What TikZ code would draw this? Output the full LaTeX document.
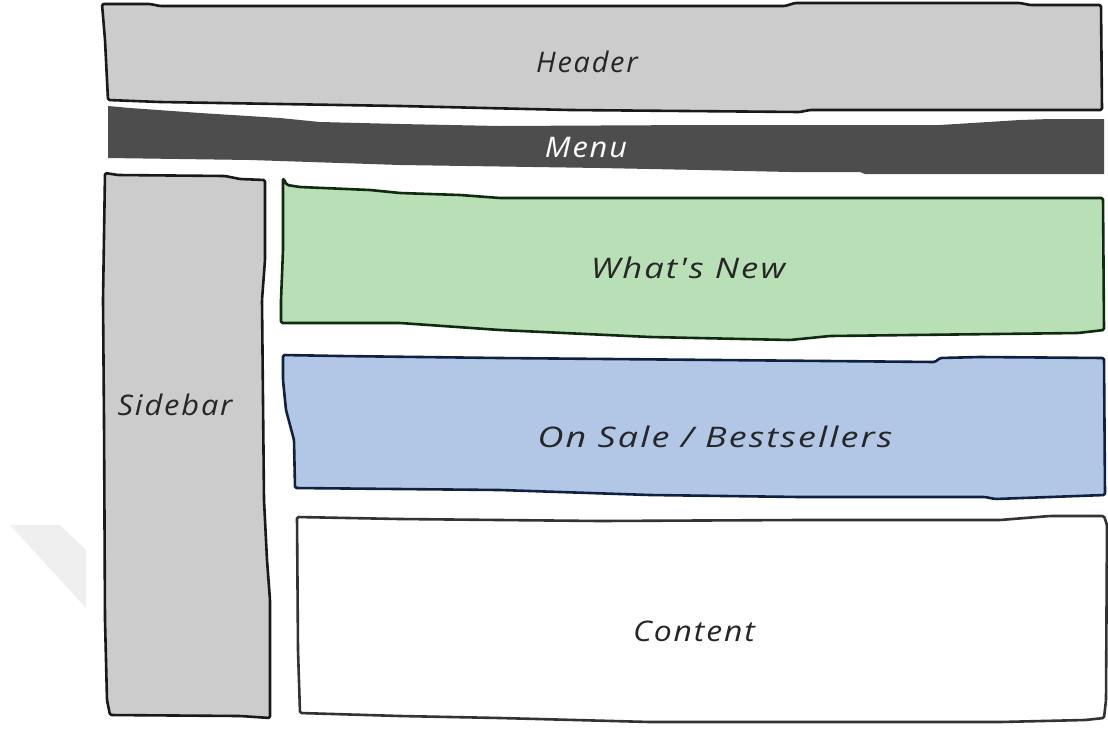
\documentclass[tikz,border=0pt]{standalone}
\usepackage{fontspec}
\setmainfont{Open Sans}
\newfontfamily\handfont[LetterSpace=6]{Open Sans}
\newcommand{\hw}[2]{\scalebox{#1}[1.05]{#2}}
\begin{document}
\begin{tikzpicture}[x=1pt,y=-1pt,
  sketch/.style={line width=2.6pt,line join=round,rounded corners=1.5pt},
  lbl/.style={font=\handfont\itshape\fontsize{27}{32}\selectfont,text=black!85,inner sep=0pt}]
\useasboundingbox (0,0) rectangle (1108,729);
\definecolor{hdrgray}{HTML}{CCCCCC}
\definecolor{menugray}{HTML}{4D4D4D}
\definecolor{newgreen}{HTML}{B9DFB7}
\definecolor{salefill}{HTML}{B2C7E6}
\definecolor{salenavy}{HTML}{102040}
\definecolor{newline}{HTML}{0F2A0F}
\definecolor{faint}{HTML}{EFEFEF}
% faint artifact
\fill[faint] (10,525) -- (60,525) -- (86,550) -- (86,608) -- cycle;
% Header
\draw[sketch,fill=hdrgray,draw=black!90] (102,4) -- (150,4) -- (160,6) -- (785,6) -- (795,3) -- (1020,3) -- (1030,5) -- (1101,5)
  -- (1102,110) -- (810,110) -- (800,112) -- (570,110) -- (400,106) -- (160,102) -- (108,100) -- (105,40) -- cycle;
% Menu
\fill[menugray] (108,106) -- (130,108) -- (200,113) -- (280,118) -- (320,122) -- (400,124) -- (500,126) -- (700,125)
  -- (940,125) -- (1020,120) -- (1050,119) -- (1104,119) -- (1104,174) -- (865,174) -- (860,172) -- (790,172)
  -- (700,170) -- (600,168) -- (400,165) -- (250,160) -- (108,158) -- cycle;
% Sidebar
\draw[sketch,fill=hdrgray,draw=black!90] (105,173) -- (118,175) -- (225,176) -- (240,179) -- (265,180) -- (265,260) -- (262,300)
  -- (264,500) -- (267,560) -- (270,600) -- (270,718) -- (240,716) -- (110,715) -- (107,700) -- (105,620) -- (104,420)
  -- (103,300) -- cycle;
% What's New
\draw[sketch,fill=newgreen,draw=newline] (283,178) -- (287,185) -- (300,187) -- (370,190) -- (400,193) -- (460,195) -- (500,198)
  -- (1103,198) -- (1104,330) -- (1078,333) -- (830,336) -- (790,340) -- (650,337) -- (500,330) -- (400,323) -- (281,323)
  -- (281,300) -- (283,250) -- cycle;
% On Sale
\draw[sketch,fill=salefill,draw=salenavy] (283,355) -- (340,356) -- (500,358) -- (935,362) -- (940,358) -- (980,357) -- (1104,358)
  -- (1105,495) -- (1050,497) -- (995,499) -- (985,497) -- (800,497) -- (650,495) -- (500,490) -- (295,488) -- (294,440)
  -- (290,425) -- (286,410) -- (283,380) -- cycle;
% Content
\draw[sketch,fill=white,draw=black!80] (297,517) -- (400,519) -- (600,521) -- (800,520) -- (1000,520) -- (1050,516) -- (1104,516)
  -- (1107,525) -- (1106,700) -- (1104,718) -- (1085,720) -- (1000,722) -- (650,722) -- (500,718) -- (400,716) -- (300,713)
  -- (298,650) -- cycle;
% Labels
\node[lbl] (header) at (587,62) {\hw{1.07}{Header}};
\node[lbl,text=white] (menu) at (586,148) {\hw{1.14}{Menu}};
\node[lbl] (new) at (688,268) {\hw{1.28}{What's New}};
\node[lbl] (sale) at (715,437) {\hw{1.33}{On Sale / Bestsellers}};
\node[lbl] (side) at (175,405) {\hw{1.14}{Sidebar}};
\node[lbl] (content) at (694,631) {\hw{1.18}{Content}};
\end{tikzpicture}
\end{document}
